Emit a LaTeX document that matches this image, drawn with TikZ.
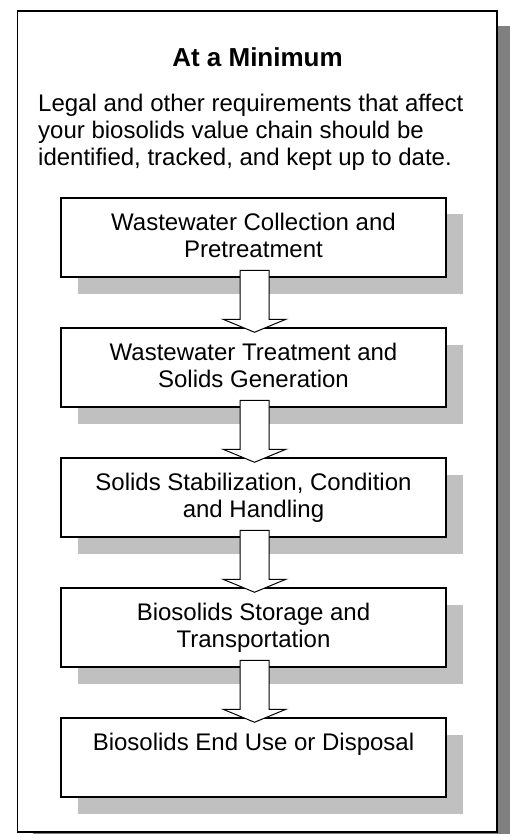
\documentclass[tikz,border=0pt]{standalone}
\usepackage{fontspec}
\setmainfont{Liberation Sans}
\usetikzlibrary{calc,shadows}

\definecolor{boxshade}{RGB}{192,192,192}
\definecolor{frameshade}{RGB}{128,128,128}

\tikzset{
  frame/.style={draw=black, line width=1.8pt, fill=white, inner sep=0pt,
    minimum width=479.5pt, minimum height=821pt,
    general shadow={fill=frameshade, shadow xshift=15.5pt, shadow yshift=-15pt}},
  stagebox/.style={draw=black, line width=1.5pt, fill=white, inner sep=0pt,
    minimum width=385pt, minimum height=79pt,
    general shadow={fill=boxshade, shadow xshift=16.5pt, shadow yshift=-16.5pt}},
  stagetext/.style={inner sep=0pt, anchor=base, font={\fontsize{24}{26.7}\selectfont}},
  blockarrow/.style={draw=black, line width=1pt, fill=white, line join=miter},
}

% hollow block arrow from the bottom of one stage into the next
\newcommand\stagearrow[2]{%
  \draw[blockarrow]
    ($(#1.south)+(-13.5,-7.5)$) -- ($(#1.south)+(15.5,-7.5)$)
    -- ($(#2.north)+(15.5,-8)$) -- ($(#2.north)+(32.5,-8)$)
    -- ($(#2.north)+(1,5)$)
    -- ($(#2.north)+(-30.5,-8)$) -- ($(#2.north)+(-13.5,-8)$) -- cycle;}

\begin{document}
\begin{tikzpicture}[x=1pt, y=-1pt]
  \useasboundingbox[fill=white] (0,0) rectangle (510,834);

  % outer panel
  \node[frame] (panel) at (257.25,421.5) {};

  \node[inner sep=0pt, anchor=base, font={\bfseries\fontsize{26}{30}\selectfont}]
    (title) at (257.5,66.7) {At a Minimum};

  \node[inner sep=0pt, anchor=base west, font={\fontsize{24}{27}\selectfont}]
    (req) at (38,111.7) {\parbox[t]{450pt}{\raggedright
      Legal and other requirements that affect\\
      your biosolids value chain should be\\
      identified, tracked, and kept up to date.}};

  % process stages
  \node[stagebox] (s1) at (253.5,237.5) {};
  \node[stagebox] (s2) at (253.5,367.5) {};
  \node[stagebox] (s3) at (253.5,497.5) {};
  \node[stagebox] (s4) at (253.5,627.5) {};
  \node[stagebox] (s5) at (253.5,757.5) {};

  \node[stagetext] (t1) at ($(s1.north)+(0,33.7)$)
    {\parbox[t]{375pt}{\centering Wastewater Collection and\\Pretreatment}};
  \node[stagetext] (t2) at ($(s2.north)+(0,33.7)$)
    {\parbox[t]{375pt}{\centering Wastewater Treatment and\\Solids Generation}};
  \node[stagetext] (t3) at ($(s3.north)+(0,33.7)$)
    {\parbox[t]{375pt}{\centering Solids Stabilization, Condition\\and Handling}};
  \node[stagetext] (t4) at ($(s4.north)+(0,33.7)$)
    {\parbox[t]{375pt}{\centering Biosolids Storage and\\Transportation}};
  \node[stagetext] (t5) at ($(s5.north)+(0,33.7)$)
    {\parbox[t]{375pt}{\centering Biosolids End Use or Disposal}};

  % flow arrows
  \stagearrow{s1}{s2}
  \stagearrow{s2}{s3}
  \stagearrow{s3}{s4}
  \stagearrow{s4}{s5}
\end{tikzpicture}
\end{document}
